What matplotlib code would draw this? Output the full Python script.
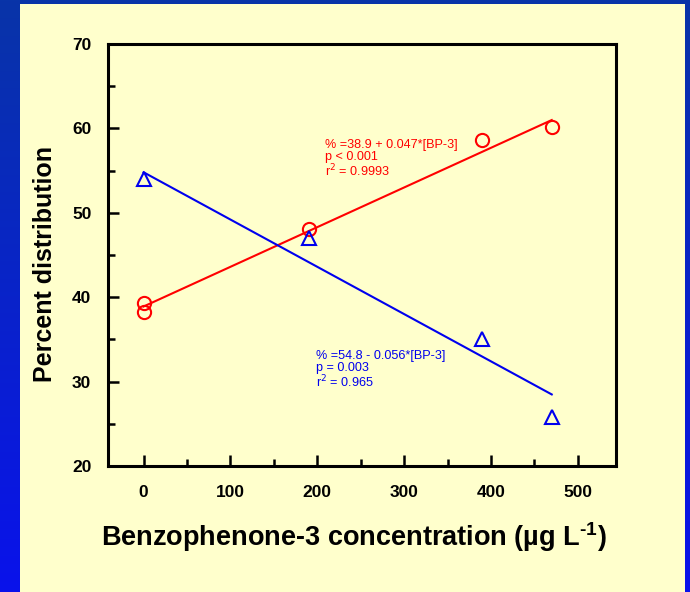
import numpy as np
import matplotlib
matplotlib.use("Agg")
import matplotlib.pyplot as plt
from matplotlib.patches import Rectangle

plt.rcParams['font.family'] = ['Liberation Sans', 'DejaVu Sans']
plt.rcParams['mathtext.fontset'] = 'custom'
plt.rcParams['mathtext.rm'] = 'Liberation Sans:bold'
plt.rcParams['mathtext.it'] = 'Liberation Sans:bold'
plt.rcParams['mathtext.bf'] = 'Liberation Sans:bold'

# Data
bp3_red = [0, 0, 190, 390, 470]
pct_red = [39.3, 38.3, 48.1, 58.6, 60.2]
bp3_blue = [0, 190, 390, 470]
pct_blue = [54.0, 47.0, 35.1, 25.8]

# Regression coefficients (intercept, slope)
red_fit = (38.9, 0.047)
blue_fit = (54.8, -0.056)
fit_range = [0, 470]

red_text = "% =38.9 + 0.047*[BP-3]\np < 0.001\nr$^2$ = 0.9993"
blue_text = "% =54.8 - 0.056*[BP-3]\np = 0.003\nr$^2$ = 0.965"

W, H = 690, 592
fig = plt.figure(figsize=(W / 100, H / 100), dpi=100)

# background gradient (blue) and yellow panel
bg = fig.add_axes([0, 0, 1, 1], zorder=-10)
grad = np.linspace(0, 1, 256).reshape(-1, 1)
top = np.array([8, 52, 168]) / 255
bot = np.array([10, 18, 235]) / 255
img = top[None, None, :] * (1 - grad[:, :, None]) + bot[None, None, :] * grad[:, :, None]
bg.imshow(img, aspect='auto', extent=[0, 1, 0, 1], origin='upper')
bg.add_patch(Rectangle((20 / W, 0), (685 - 20) / W, 1 - 4 / H, facecolor='#ffffcc',
                       edgecolor='none', transform=bg.transAxes))
bg.set_xlim(0, 1)
bg.set_ylim(0, 1)
bg.axis('off')

ax = fig.add_axes([108 / W, 1 - 466 / H, (616 - 108) / W, (466 - 44) / H])
ax.set_facecolor('#ffffcc')

xs = np.array(fit_range, dtype=float)
ax.plot(xs, red_fit[0] + red_fit[1] * xs, color='#ff0000', lw=1.5)
ax.plot(xs, blue_fit[0] + blue_fit[1] * xs, color='#0000ee', lw=1.5)
ax.plot(bp3_red, pct_red, 'o', ms=9.5, mfc='none', mec='#ff0000', mew=1.5)
ax.plot(bp3_blue, pct_blue, '^', ms=9.5, mfc='none', mec='#0000ee', mew=1.5)

ax.text(209, 58.8, red_text, color='#ff0000', fontsize=9.1, va='top', ha='left',
        linespacing=1.0, math_fontfamily='dejavusans')
ax.text(198, 33.8, blue_text, color='#0000ee', fontsize=9.1, va='top', ha='left',
        linespacing=1.0, math_fontfamily='dejavusans')

ax.set_xlim(-41, 544)
ax.set_ylim(20, 70)
ax.set_xticks([0, 100, 200, 300, 400, 500])
ax.set_xticks(np.arange(50, 550, 100), minor=True)
ax.set_yticks([20, 30, 40, 50, 60, 70])
ax.set_yticks(np.arange(25, 70, 10), minor=True)

for s in ['left', 'bottom', 'top', 'right']:
    ax.spines[s].set_linewidth(2.2)
ax.tick_params(which='both', direction='in', top=False, right=False, width=1.8)
ax.tick_params(which='major', length=8, labelsize=12.5)
ax.tick_params(which='minor', length=5)
ax.tick_params(axis='x', pad=14)
ax.tick_params(axis='y', pad=12)
for lab in ax.get_xticklabels() + ax.get_yticklabels():
    lab.set_fontweight('bold')

ax.set_ylabel('Percent distribution', fontsize=18, fontweight='bold', labelpad=11)
ax.yaxis.label.set_y(0.478)
ax.set_xlabel('Benzophenone-3 concentration (\u00b5g L$^{\\text{-1}}$)',
              fontsize=19.5, fontweight='bold', labelpad=14.5)
ax.xaxis.label.set_x(0.484)

fig.savefig('out.png', dpi=100)
